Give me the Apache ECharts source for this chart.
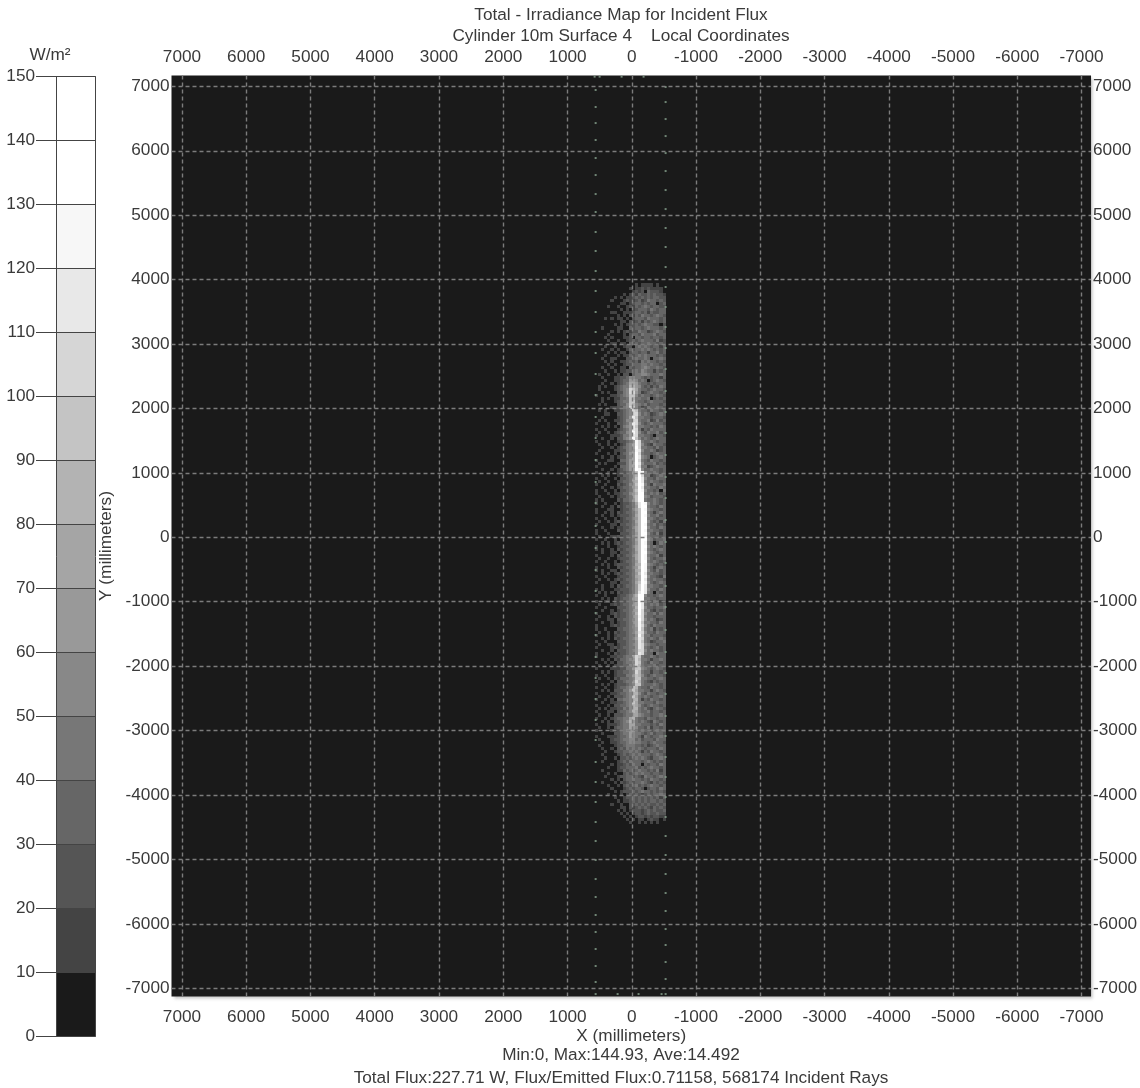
<!DOCTYPE html>
<html>
<head>
<meta charset="utf-8">
<style>html,body{margin:0;padding:0;background:#fff}#c{width:1140px;height:1088px}</style>
<script src="https://cdn.jsdelivr.net/npm/echarts@6/dist/echarts.min.js"></script>
</head>
<body>
<div id="c"></div>
<script>
const axisTicks = [7000,6000,5000,4000,3000,2000,1000,0,-1000,-2000,-3000,-4000,-5000,-6000,-7000];
const bandColors = ['#1a1a1a','#444444','#555555','#666666','#777777','#888888','#999999','#a5a5a5','#b3b3b3','#c4c4c4','#d6d6d6','#e8e8e8','#f7f7f7','#ffffff','#ffffff'];
const firstColX = 546;
const firstRowY = 3916;
const cellMm = 47.67;
// Irradiance band (W/m2 / 10, hex digit) of each cell, one string per map row, top to bottom.
const irradianceRows = [
"00000000000001011110100","00000000000101121211110","00000000000012120322210","00000000010121322323221",
"00000010101123232323322","00000100012112312433232","00000000110123323233023","00001001001213234323322",
"00000000101012333243233","00000110011123323132233","00000001010213243323432","00010101101023332433323",
"00000000110212313234323","00000010101223234332202","00100001100323323433323","00000101012122433123432",
"00001000010233243334233","00010100011203323323323","00001001001232343332412","00000110110323233433232",
"00010010012203434323313","00100101001323343432323","00001010110233233133423","00010001011323434333232",
"00100110002234334303343","00010100112323143433232","00001010012233344343323","00100100110323345433432",
"00010010112234354331323","01001001022034455433343",
"00100011223554432323313","00010011233665343023432","00100101234776433232333","01010012344886532313243",
"01000012345a97433234332","00101002245aa6412343323","10000112345995343323432","00101011334984433402323",
"00100012344994332343332","01010002335985434233323","00000112245a95312433432",
"010100112345a9433243323","000110022345aa534312343","001000012346b9443323332","010100112355aa433412423",
"100010022346ba532343332","001010102456b9443323243","100100012346ba413243333","010010123356ca532433423",
"100001112446ba443320332","001001022457c9534323433",
"1000100122346ca43343233","0100101012457ca53214332","0010010123457da44332423","0100001122456cb53343123",
"1000101023467da43323433","0010010122457db54302343","1000110033467da43243323","0101000122468eb53334232",
"1000001033467da44123433","0010010123468ec53343323",
"10001001223469ec5334323","00101001133468ea4412343","10010010223469eb5332433","01001001233478eb4343323",
"10010002123569ec5314334","00100101233468eb4433243","10010010223479ec5332304","10001011233568ed4343423",
"01000101223479ed5423332","10100002133469ed4334323",
"10010010122347bec534323","00100102123346bed433243","100011001223579ec543323","100101021233469ed431343",
"001001012223479ec533423","100100101233569ed443233","010010121223479ed532314","100001102233469ec434232",
"001001011223579ed533243","100100021233479ec443323","100010002223469ed532413","010001121233579ec433323",
"100100102223479ed542334","001010121233469ec430243","100010012223579ed534323","101001021233479ec432343",
"001001102223469ed543233","100001021233579ec433413","010010012223479ec532334","100100101233469ed434323",
"001010122223478ec543232","100010021233569ec431343","101001102223478ec532423","001010121233469eb443323",
"100100012223478ec533214","010010121233468eb434332","100001102223479ec532343","00100102123346aeb443323",
"10100011222346aeb533243","01010102122346bdb430323",
"10010001223468ed5332343","00101021233467ed4433233","10011011223468ec5324312","01000121233467db4343423",
"10010002223458db5332334","00100101233467da4421323","10000121223458da5334243","01001021223467ca4332333",
"10001102233457da5343123","00100101223467c94433243","10000121223457ca5324333","10010002233456c94341323",
"01001021223457ba5332433","10001012223446c94423332","00101021233457ba4343243","10010002223446b94312334",
"01001101223456ba5433233","10000121233446ba4323423","00100102223456aa5343323","10001021223446ba4330433",
"1000011223447a943343233","0010102133456a844313343","1001010223445a943243323","0100101223356a843334233",
"10000111224469954323432","0010101223345a843313323","10010012224469853234332","01001021333459944332343",
"1000010223446a843213233","00101012223459943334323",
"10010012334598433243323","00101022244697443313432","10000112334588532433233","01001022234597434323343",
"10010103344588413243323","00100112234597443332433","10001022334587532343323","01010112243588434213432",
"10001102334587433423323","01001022234477543323343",
"10010123344784332433233","00101022345864343214323","10001112344774433323243","01001023344765332413323",
"10000112345664343323433","00100022344654432342332","10001112334654314323343","01000122344553423332433",
"00100112334554433234332","01000012234443323123433","00100102324343432333243","00010012233434313243323",
"00100001232343433323432","00010010223234343213343","00100001232433323432323","00000101123243303233243",
"00001001223334232343323","00100001132323433232413","00001010023234343323323","00010001223323214332343",
"00000101023343323243323","00100010212323343213232","00001001023234232343323","00000100012323320233243",
"00000010122232343323232","00001000101323212323343","00000010012232323232313","00000001011232323233232",
"00000100100223232322323","00000000110212323213232","00000001010122212323223","00000000101012212322322",
"00000000010101221212211","00000000001010110121101","00000000000100101010100"
];
const leftDotX = 562;
const leftDotY = [6943,6679,6430,6167,5887,5623,5328,5049,4739,4444,4133,3823,3497,3187,2861,2535,2209,1868,1542,1200,859,533,176,-166,-507,-833,-1174,-1516,-1857,-2183,-2509,-2835,-3146,-3487,-3798,-4108,-4419,-4714,-5009,-5304,-5583,-5862,-6126,-6390,-6654,-6902,-7089];
const rightDotX = -527;
const rightDotY = [6989,6756,6492,6228,5964,5685,5390,5095,4801,4506,4195,3885,3575,3264,2938,2612,2271,1945,1619,1278,936,610,269,-72,-398,-755,-1081,-1438,-1780,-2106,-2432,-2773,-3084,-3410,-3720,-4031,-4341,-4636,-4931,-5226,-5521,-5800,-6080,-6328,-6592,-6856,-7089];
const topEdgeDotX = [578,500,158,-184];
const topEdgeDotY = 7150;
const bottomEdgeDotX = [220,-106,-464];
const bottomEdgeDotY = -7089;
const barBands = [5,15,25,35,45,55,65,75,85,95,105,115,125,135,145];

const FONT = '"Liberation Sans", Arial, sans-serif';
const TEXT = '#3a3a3a';
const FS = 17.2;

const cells = [];
irradianceRows.forEach((row, r) => {
  for (let c = 0; c < row.length; c++) {
    const band = parseInt(row[c], 16);
    if (band > 0) cells.push([firstColX - c * cellMm, firstRowY - r * cellMm, band * 10 + 5]);
  }
});
const dots = leftDotY.map(y => [leftDotX, y])
  .concat(rightDotY.map(y => [rightDotX, y]))
  .concat(topEdgeDotX.map(x => [x, topEdgeDotY]))
  .concat(bottomEdgeDotX.map(x => [x, bottomEdgeDotY]));

const plain = v => String(v);
const tickLabel = { fontFamily: FONT, fontSize: FS, color: TEXT, customValues: axisTicks, formatter: plain };
const dashed = { show: true, lineStyle: { color: '#7c7c7c', type: [4, 3], width: 1.4 } };
const xCommon = { type: 'value', inverse: true, min: -7148, max: 7163, gridIndex: 0, axisLine: { show: false }, axisTick: { show: false, customValues: axisTicks }, z: 4 };
const yCommon = { type: 'value', min: -7127, max: 7168, gridIndex: 0, axisLine: { show: false }, axisTick: { show: false, customValues: axisTicks }, z: 4 };

function titleAt(text, x, y) {
  return { text, left: x, top: y, textAlign: 'center', padding: 0, itemGap: 0,
    textStyle: { fontFamily: FONT, fontSize: FS, fontWeight: 'normal', color: TEXT } };
}

const option = {
  backgroundColor: '#ffffff',
  animation: false,
  title: [
    titleAt('Total - Irradiance Map for Incident Flux', 621, 7),
    titleAt('Cylinder 10m Surface 4    Local Coordinates', 621, 28),
    titleAt('W/m²', 50, 47),
    titleAt('Min:0, Max:144.93, Ave:14.492', 621, 1047),
    titleAt('Total Flux:227.71 W, Flux/Emitted Flux:0.71158, 568174 Incident Rays', 621, 1070)
  ],
  grid: [
    { left: 171.5, top: 75.5, width: 920, height: 921, show: true, backgroundColor: '#1a1a1a', borderWidth: 0,
      shadowColor: 'rgba(170,170,170,0.7)', shadowBlur: 3, shadowOffsetX: 2, shadowOffsetY: 2 },
    { left: 56, top: 76.5, width: 39, height: 960 }
  ],
  xAxis: [
    Object.assign({}, xCommon, { position: 'bottom', splitLine: dashed,
      axisLabel: Object.assign({}, tickLabel, { margin: 12 }),
      name: 'X (millimeters)', nameLocation: 'middle', nameGap: 31, nameMoveOverlap: false,
      nameTextStyle: { fontFamily: FONT, fontSize: FS, color: TEXT } }),
    Object.assign({}, xCommon, { position: 'top', splitLine: { show: false },
      axisLabel: Object.assign({}, tickLabel, { margin: 10 }) }),
    { type: 'category', gridIndex: 1, data: ['W/m²'], show: false }
  ],
  yAxis: [
    Object.assign({}, yCommon, { position: 'left', splitLine: dashed,
      axisLabel: Object.assign({}, tickLabel, { margin: 2 }),
      name: 'Y (millimeters)', nameLocation: 'middle', nameGap: 57, nameRotate: 90,
      nameTextStyle: { fontFamily: FONT, fontSize: FS, color: TEXT, padding: [0, 20, 0, 0] } }),
    Object.assign({}, yCommon, { position: 'right', splitLine: { show: false },
      axisLabel: Object.assign({}, tickLabel, { margin: 2 }) }),
    { type: 'value', gridIndex: 1, min: 0, max: 150, interval: 10, position: 'left', z: 4,
      axisLine: { show: true, lineStyle: { color: '#444' } },
      axisTick: { show: true, length: 20, lineStyle: { color: '#444' } },
      splitLine: { show: true, lineStyle: { color: '#444', width: 1 } },
      axisLabel: { fontFamily: FONT, fontSize: FS, color: TEXT, margin: 21 } },
    { type: 'value', gridIndex: 1, min: 0, max: 150, interval: 10, position: 'right', z: 4,
      axisLine: { show: true, lineStyle: { color: '#444' } },
      axisTick: { show: false }, splitLine: { show: false }, axisLabel: { show: false } }
  ],
  series: [
    {
      type: 'custom', xAxisIndex: 0, yAxisIndex: 0, z: 1, progressive: 0, silent: true,
      data: cells,
      encode: { x: 0, y: 1 },
      renderItem: function (params, api) {
        const p = api.coord([api.value(0), api.value(1)]);
        const s = api.size([cellMm, cellMm]);
        const x0 = Math.round(p[0] - s[0] / 2), x1 = Math.round(p[0] + s[0] / 2);
        const y0 = Math.round(p[1] - s[1] / 2), y1 = Math.round(p[1] + s[1] / 2);
        return { type: 'rect',
          shape: { x: x0, y: y0, width: x1 - x0, height: y1 - y0 },
          style: { fill: bandColors[Math.floor(api.value(2) / 10)] } };
      }
    },
    {
      type: 'scatter', xAxisIndex: 0, yAxisIndex: 0, z: 2, silent: true,
      symbol: 'rect', symbolSize: 2,
      itemStyle: { color: '#86a08c' },
      data: dots
    }
  ].concat(barBands.map((v, i) => ({
    type: 'bar', xAxisIndex: 2, yAxisIndex: 2, stack: 'scale', barWidth: '100%', silent: true, z: 2,
    itemStyle: { color: bandColors[i] },
    data: [10]
  })))
};
const chart = echarts.init(document.getElementById('c'), null, { renderer: 'canvas' });
chart.setOption(option);
</script>
</body>
</html>
